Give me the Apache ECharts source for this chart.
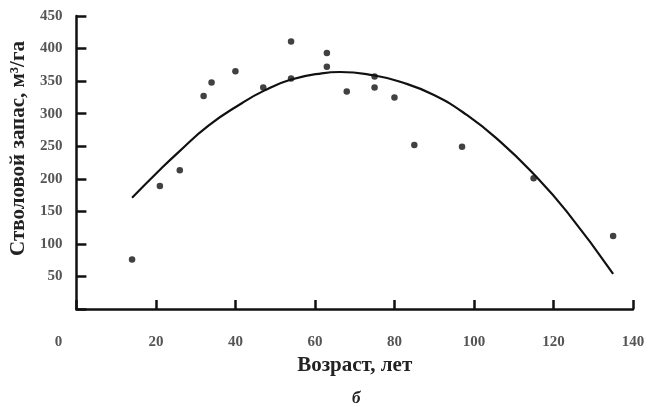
<!DOCTYPE html>
<html>
<head>
<meta charset="utf-8">
<script src="https://cdn.jsdelivr.net/npm/echarts@6/dist/echarts.min.js"></script>
<style>
  html, body { margin: 0; padding: 0; background: #fff; }
  #chart { width: 651px; height: 407px; }
</style>
</head>
<body>
<div id="chart"></div>
<script>
// измеренные точки: возраст (лет) и стволовой запас (м3/га)
var ageObs = [14, 21, 26, 32, 34, 40, 47, 54, 54, 63, 63, 68, 75, 75, 80, 85, 97, 115, 135];
var stockObs = [76, 189, 213, 327, 348, 365, 340, 411, 354, 393, 372, 334, 357, 340, 325, 252, 249, 201, 112];

// линия тренда
var ageFit = [14, 20.7, 25.7, 33.3, 41.6, 47.1, 53.8, 61.7, 66.3, 74.7, 81.4, 89.8, 98.2, 106.6, 114.9, 123.3, 135];
var stockFit = [171, 212, 241, 282, 316, 335, 352, 362, 364, 359, 349, 329, 298, 257, 208, 150, 54];

var chart = echarts.init(document.getElementById('chart'), null, { renderer: 'canvas' });

var serif = '"Liberation Serif", "DejaVu Serif", serif';

function pairs(xs, ys) {
  return xs.map(function (x, i) { return [x, ys[i]]; });
}

var option = {
  animation: false,
  title: {
    text: 'б',
    left: 347,
    top: 385,
    textStyle: { fontFamily: serif, fontSize: 17, fontWeight: 'bold', fontStyle: 'italic', color: '#222' }
  },
  grid: { left: 76, right: 18, top: 16, bottom: 98 },
  xAxis: {
    type: 'value',
    min: 0,
    max: 140,
    interval: 20,
    name: 'Возраст, лет',
    nameLocation: 'middle',
    nameGap: 43,
    nameTextStyle: { fontFamily: serif, fontSize: 21, fontWeight: 'bold', color: '#222' },
    axisLine: { lineStyle: { color: '#111', width: 2.5 } },
    axisTick: { inside: true, length: 9, lineStyle: { color: '#111', width: 2.5 } },
    axisLabel: {
      margin: 26,
      fontFamily: serif,
      fontSize: 15,
      fontWeight: 'bold',
      color: '#555',
      formatter: function (v) { return v === 0 ? '{z|0}' : String(v); },
      rich: { z: { fontFamily: serif, fontSize: 15, fontWeight: 'bold', color: '#555', padding: [0, 36, 0, 0] } }
    },
    splitLine: { show: false }
  },
  yAxis: {
    type: 'value',
    min: 0,
    max: 450,
    interval: 50,
    name: 'Стволовой запас, м³/га',
    nameLocation: 'middle',
    nameGap: 41,
    nameTextStyle: { fontFamily: serif, fontSize: 21, fontWeight: 'bold', color: '#222', padding: [0, 0, 0, 28] },
    axisLine: { show: true, lineStyle: { color: '#111', width: 2.5 } },
    axisTick: { show: true, inside: true, length: 10, lineStyle: { color: '#111', width: 2.5 } },
    axisLabel: {
      margin: 14,
      fontFamily: serif,
      fontSize: 15,
      fontWeight: 'bold',
      color: '#555',
      formatter: function (v) { return v === 0 ? '' : String(v); }
    },
    splitLine: { show: false }
  },
  series: [
    {
      name: 'Тренд',
      type: 'line',
      data: pairs(ageFit, stockFit),
      smooth: 0.5,
      showSymbol: false,
      lineStyle: { color: '#111', width: 2.2 },
      z: 2
    },
    {
      name: 'Наблюдения',
      type: 'scatter',
      data: pairs(ageObs, stockObs),
      symbolSize: 6.5,
      itemStyle: { color: '#111' },
      z: 3
    }
  ]
};

chart.setOption(option);
</script>
</body>
</html>
